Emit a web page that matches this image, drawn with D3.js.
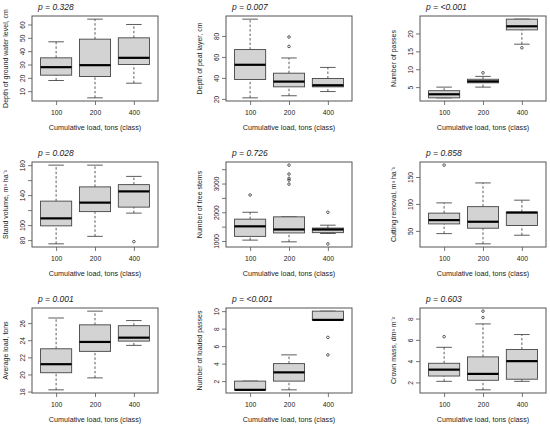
<!DOCTYPE html>
<html>
<head>
<meta charset="utf-8">
<script src="https://cdn.jsdelivr.net/npm/d3@7"></script>
<style>
  body { margin: 0; background: #fff; }
  text { font-family: "Liberation Sans", Arial, sans-serif; fill: #222; }
</style>
</head>
<body>
<div id="plot"></div>
<script>
// Categories shared by every panel
var categories = ["100", "200", "400"];

// Axis titles and p values, one per panel (row by row)
var yTitles = [
  "Depth of ground water level, cm",
  "Depth of peat layer, cm",
  "Number of passes",
  "Stand volume, m\u00B3 ha\u207B\u00B9",
  "Number of tree stems",
  "Cutting removal, m\u00B3 ha\u207B\u00B9",
  "Average load, tons",
  "Number of loaded passes",
  "Crown mass, dm\u00B3 m\u207B\u00B2"
];
var pLabels = ["p = 0.328", "p = 0.007", "p = <0.001",
               "p = 0.028", "p = 0.726", "p = 0.858",
               "p = 0.001", "p = <0.001", "p = 0.603"];

// Box stats per class: [lower whisker, Q1, median, Q3, upper whisker], outliers
var groundWater = [[18, 22, 28, 35, 47], [5, 21, 29.5, 49, 64], [16, 30, 35, 50, 60]];
var groundWaterOut = [[], [], []];
var peatDepth = [[21, 38.5, 52.5, 67, 96], [23, 31.5, 36.5, 44.5, 59], [27, 31.5, 33, 39.5, 50]];
var peatDepthOut = [[], [70, 79], []];
var passes = [[2, 2, 3, 4, 5], [5, 6.2, 6.6, 7.2, 8], [17, 21, 22, 24, 24]];
var passesOut = [[], [9], [16]];
var standVolume = [[75, 99, 109, 132, 180], [85, 118, 130, 151, 180], [116, 124, 145, 154, 165]];
var standVolumeOut = [[], [], [78]];
var treeStems = [[1030, 1160, 1510, 1760, 2000], [970, 1280, 1400, 1840, 1840], [1260, 1290, 1400, 1450, 1550]];
var treeStemsOut = [[2600], [2980, 3120, 3180, 3330, 3640], [2000, 900]];
var cutting = [[45, 63, 70, 83, 102], [26, 55, 67, 95, 139], [42, 60, 84, 85, 107]];
var cuttingOut = [[172], [], []];
var avgLoad = [[18.2, 20.2, 21.2, 23, 26.6], [19.6, 22.7, 23.8, 25.8, 27.4], [23.4, 23.9, 24.3, 25.7, 26.3]];
var avgLoadOut = [[], [], []];
var loadedPasses = [[1, 1, 1, 2, 2], [1, 2, 3, 4, 5], [9, 9, 9, 10, 10]];
var loadedPassesOut = [[], [], [7, 5]];
var crownMass = [[2.1, 2.6, 3.2, 3.8, 5.3], [1.3, 2.2, 2.8, 4.4, 7.5], [2.1, 2.3, 4.0, 5.1, 6.5]];
var crownMassOut = [[6.3], [8.1, 8.7], []];

// Tick values and the labels R actually printed
var yTicks = [
  [10, 20, 30, 40, 50, 60],
  [20, 40, 60, 80],
  [5, 10, 15, 20],
  [80, 100, 120, 140, 160, 180],
  [1000, 1500, 2000, 2500, 3000, 3500],
  [50, 100, 150],
  [18, 20, 22, 24, 26],
  [2, 4, 6, 8, 10],
  [2, 4, 6, 8]
];
var yTickLabels = [
  ["10", "20", "30", "40", "50", "60"],
  ["20", "40", "60", "80"],
  ["5", "10", "15", "20"],
  ["80", "100", "", "140", "", "180"],
  ["1000", "", "2000", "", "3000", ""],
  ["50", "100", "150"],
  ["18", "20", "22", "24", "26"],
  ["2", "4", "6", "8", "10"],
  ["2", "4", "6", "8"]
];

var boxData = [groundWater, peatDepth, passes, standVolume, treeStems, cutting, avgLoad, loadedPasses, crownMass];
var outData = [groundWaterOut, peatDepthOut, passesOut, standVolumeOut, treeStemsOut, cuttingOut, avgLoadOut, loadedPassesOut, crownMassOut];

var svgWidth = 550;
var svgHeight = 425;

// Panel frame positions
var colX = [32, 226, 420];
var rowY = [16, 162, 308];
var panelW = 126;
var panelH = 85;

var frameColor = "#555";

var svg = d3.select("#plot")
  .append("svg")
  .attr("width", svgWidth)
  .attr("height", svgHeight);

boxData.forEach(function(stats, i) {
  var outs = outData[i];
  var g = svg.append("g")
    .attr("transform", `translate(${colX[i % 3]}, ${rowY[Math.floor(i / 3)]})`);

  // x scale: R puts groups at 1..n with xlim 0.5..n+0.5 plus 4%
  var x = d3.scalePoint()
    .domain(categories)
    .range([0, panelW])
    .padding(0.62);

  // y scale: data range extended 4% on each side like R
  var all = [];
  stats.forEach(function(s, j) { all = all.concat(s, outs[j]); });
  var lo = d3.min(all), hi = d3.max(all), pad = (hi - lo) * 0.04;
  var y = d3.scaleLinear()
    .domain([lo - pad, hi + pad])
    .range([panelH, 0]);

  var step = x.step();
  var bw = step * 0.8;
  var cap = bw * 0.5;

  // boxes
  var grp = g.selectAll(".grp")
    .data(stats)
    .enter()
    .append("g")
    .attr("class", "grp")
    .attr("transform", (d, j) => `translate(${x(categories[j])}, 0)`);

  // whiskers (dashed)
  grp.append("line")
    .attr("x1", 0).attr("x2", 0)
    .attr("y1", d => y(d[0])).attr("y2", d => y(d[1]))
    .attr("stroke", "#333").attr("stroke-width", 0.8)
    .attr("stroke-dasharray", "2.5,2");
  grp.append("line")
    .attr("x1", 0).attr("x2", 0)
    .attr("y1", d => y(d[3])).attr("y2", d => y(d[4]))
    .attr("stroke", "#333").attr("stroke-width", 0.8)
    .attr("stroke-dasharray", "2.5,2");

  // staples
  [0, 4].forEach(function(k) {
    grp.append("line")
      .attr("x1", -cap / 2).attr("x2", cap / 2)
      .attr("y1", d => y(d[k])).attr("y2", d => y(d[k]))
      .attr("stroke", "#333").attr("stroke-width", 0.8);
  });

  grp.append("rect")
    .attr("x", -bw / 2)
    .attr("width", bw)
    .attr("y", d => y(d[3]))
    .attr("height", d => y(d[1]) - y(d[3]))
    .attr("fill", "#d3d3d3")
    .attr("stroke", "#444")
    .attr("stroke-width", 0.9);

  grp.append("line")
    .attr("x1", -bw / 2).attr("x2", bw / 2)
    .attr("y1", d => y(d[2])).attr("y2", d => y(d[2]))
    .attr("stroke", "#000").attr("stroke-width", 2.2);

  // outliers
  grp.each(function(d, j) {
    d3.select(this).selectAll("circle")
      .data(outs[j])
      .enter()
      .append("circle")
      .attr("cx", 0)
      .attr("cy", v => y(v))
      .attr("r", 1.3)
      .attr("fill", "none")
      .attr("stroke", "#333")
      .attr("stroke-width", 0.8);
  });

  // frame
  g.append("rect")
    .attr("width", panelW)
    .attr("height", panelH)
    .attr("fill", "none")
    .attr("stroke", frameColor)
    .attr("stroke-width", 1);

  // axes
  var labels = yTickLabels[i];
  var leftAxis = d3.axisLeft(y)
    .tickValues(yTicks[i])
    .tickSize(4)
    .tickFormat((v, k) => labels[k]);
  var ya = g.append("g").call(leftAxis);
  ya.select(".domain").remove();
  ya.selectAll(".tick line").attr("stroke", frameColor).attr("stroke-width", 0.8);
  ya.selectAll(".tick text")
    .attr("x", null).attr("dy", null)
    .attr("transform", "translate(-7, 0) rotate(-90)")
    .attr("text-anchor", "middle")
    .style("font-size", "6.6px")
    .style("font-family", "Liberation Sans, Arial, sans-serif")
    .attr("fill", "#222");

  var bottomAxis = d3.axisBottom(x).tickSize(4);
  var xa = g.append("g")
    .attr("transform", `translate(0, ${panelH})`)
    .call(bottomAxis);
  xa.select(".domain").remove();
  xa.selectAll(".tick line").attr("stroke", frameColor).attr("stroke-width", 0.8);
  xa.selectAll(".tick text")
    .attr("y", 13.5).attr("dy", null)
    .style("font-size", "6.8px")
    .style("font-family", "Liberation Sans, Arial, sans-serif")
    .attr("fill", "#222");

  // titles
  g.append("text")
    .attr("x", panelW / 2)
    .attr("y", panelH + 28.5)
    .attr("text-anchor", "middle")
    .style("font-size", "7.2px")
    .text("Cumulative load, tons (class)");

  g.append("text")
    .attr("transform", `translate(-24.5, ${panelH / 2}) rotate(-90)`)
    .attr("text-anchor", "middle")
    .style("font-size", "7px")
    .text(yTitles[i]);

  g.append("text")
    .attr("x", 6)
    .attr("y", -6.5)
    .style("font-size", "8.5px")
    .style("font-style", "italic")
    .text(pLabels[i]);
});
</script>
</body>
</html>
